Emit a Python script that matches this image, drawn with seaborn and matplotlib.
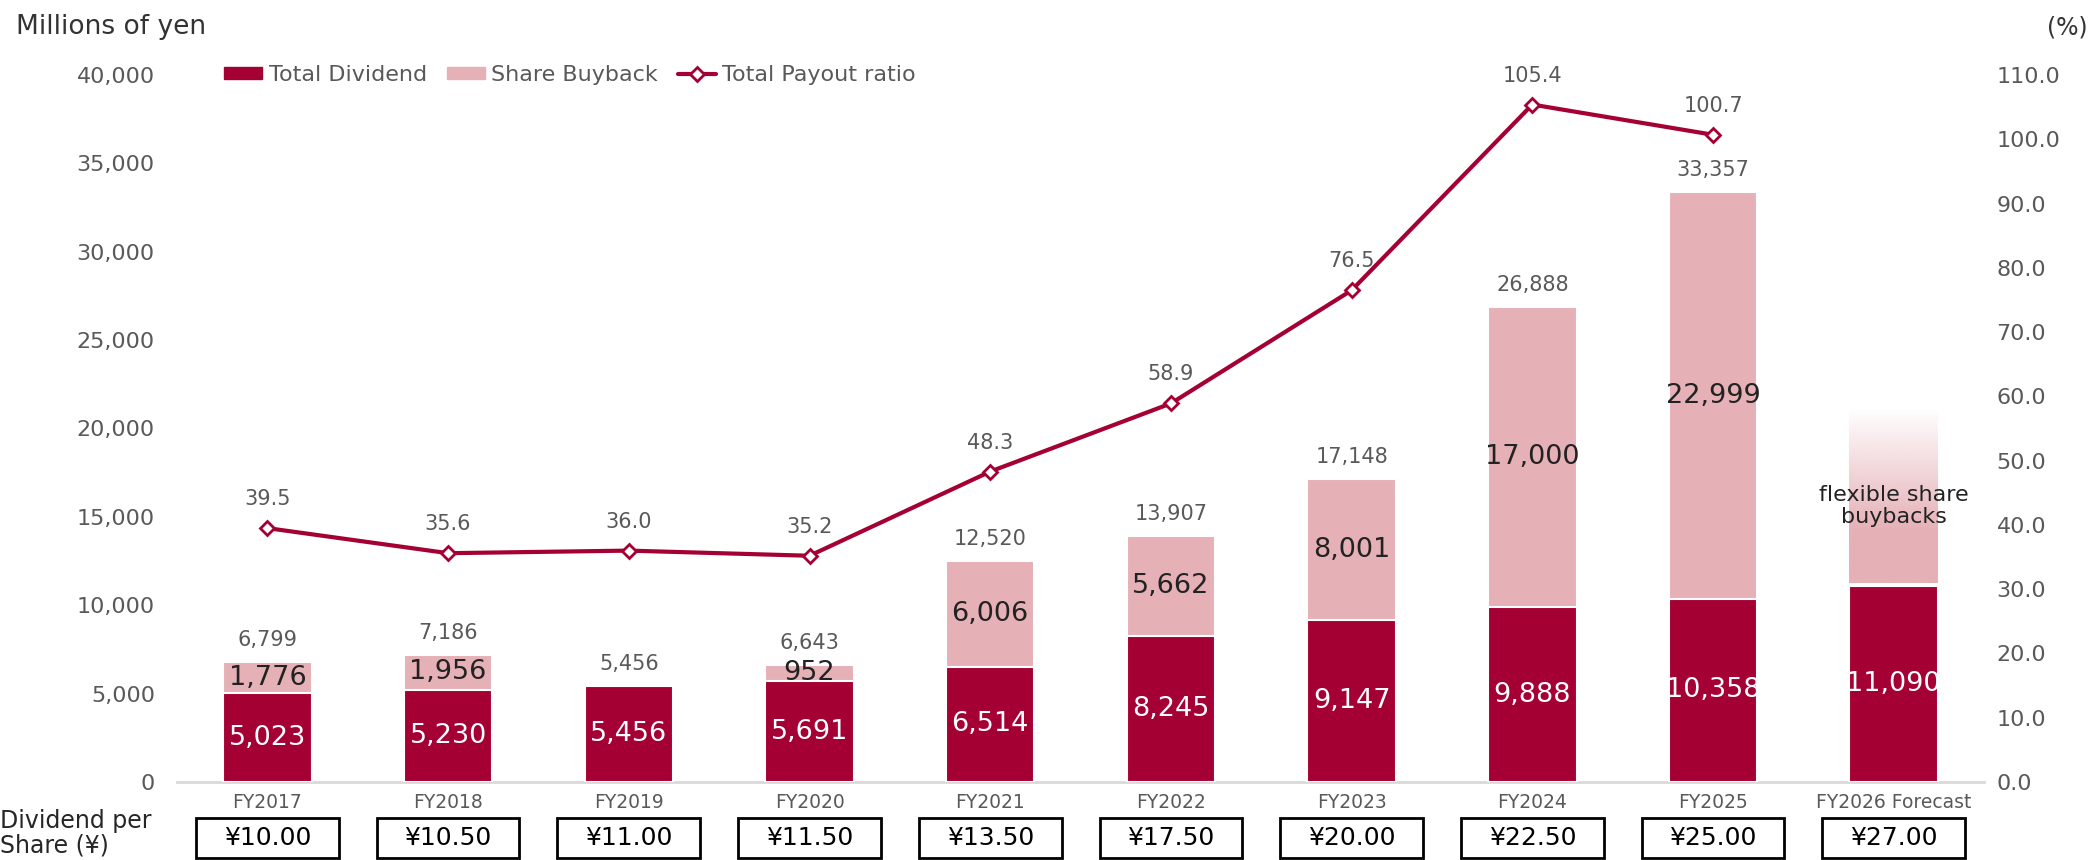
import numpy as np
import pandas as pd
import matplotlib
matplotlib.use("Agg")
import matplotlib.pyplot as plt
import seaborn as sns
from matplotlib.patches import Rectangle, Patch
from matplotlib.lines import Line2D
import matplotlib.transforms as mtransforms

sns.set_style("white")
plt.rcParams['font.family'] = ['DejaVu Sans']

# data
years = ['FY2017', 'FY2018', 'FY2019', 'FY2020', 'FY2021', 'FY2022',
         'FY2023', 'FY2024', 'FY2025', 'FY2026 Forecast']
dividend = [5023, 5230, 5456, 5691, 6514, 8245, 9147, 9888, 10358, 11090]
buyback = [1776, 1956, 0, 952, 6006, 5662, 8001, 17000, 22999, np.nan]
totals = [6799, 7186, 5456, 6643, 12520, 13907, 17148, 26888, 33357]
payout = [39.5, 35.6, 36.0, 35.2, 48.3, 58.9, 76.5, 105.4, 100.7]
dps = ['¥10.00', '¥10.50', '¥11.00', '¥11.50', '¥13.50', '¥17.50',
       '¥20.00', '¥22.50', '¥25.00', '¥27.00']
forecast_buyback_top = 21100  # top of the faded "flexible" bar

DARK = '#A50034'
PINK = '#E5B0B6'
GRAY = '#595959'

df = pd.DataFrame({'year': years, 'dividend': dividend, 'buyback': buyback})
df['stack'] = df['dividend'] + df['buyback'].fillna(0)

fig = plt.figure(figsize=(20.98, 8.6), dpi=100)
ax = fig.add_axes([0.0844, 0.0907, 0.9457 - 0.0844, 0.9128 - 0.0907])

bw = 0.49
# pink = dividend + buyback, dark red drawn over it
sns.barplot(data=df, x='year', y='stack', color=PINK, width=bw, saturation=1,
            edgecolor='white', linewidth=1.5, ax=ax, zorder=2)
sns.barplot(data=df, x='year', y='dividend', color=DARK, width=bw, saturation=1,
            edgecolor='white', linewidth=1.5, ax=ax, zorder=3)

# faded forecast buyback bar
n = len(years)
fi = n - 1
alpha = 1 - np.clip((np.linspace(0, 1, 256) - 0.3) / 0.7, 0, 1)
img = np.zeros((256, 1, 4))
img[..., 0], img[..., 1], img[..., 2] = matplotlib.colors.to_rgb(PINK)
img[:, 0, 3] = alpha
ax.imshow(img, extent=[fi - bw / 2, fi + bw / 2, dividend[fi] + 150, forecast_buyback_top],
          origin='lower', aspect='auto', zorder=1, interpolation='bilinear')
ax.text(fi, 15600, 'flexible share\nbuybacks', ha='center', va='center',
        fontsize=16, color='#222222', linespacing=1.1, zorder=5)

ax.set_xlim(-0.5, n - 0.5)
ax.set_ylim(0, 40000)
ax.set_yticks(np.arange(0, 40001, 5000))
ax.set_yticklabels([f'{v:,}' for v in range(0, 40001, 5000)])
ax.set_xlabel('')
ax.set_ylabel('')
ax.tick_params(axis='y', length=0, pad=16, labelsize=16, labelcolor=GRAY)
ax.tick_params(axis='x', length=0, pad=8, labelsize=13.5, labelcolor=GRAY)
for s in ['top', 'right', 'left']:
    ax.spines[s].set_visible(False)
ax.spines['bottom'].set_color('#D9D9D9')
ax.spines['bottom'].set_linewidth(2)

# labels inside bars
for i in range(n):
    ax.text(i, dividend[i] / 2, f'{dividend[i]:,}', ha='center', va='center',
            color='white', fontsize=19.5, zorder=6)
    b = buyback[i]
    if not np.isnan(b) and b > 0:
        ax.text(i, dividend[i] + b / 2, f'{int(b):,}', ha='center', va='center',
                color='#222222', fontsize=19.5, zorder=6)
for i, t in enumerate(totals):
    ax.annotate(f'{t:,}', (i, t), xytext=(0, 22), textcoords='offset pixels',
                ha='center', va='center', fontsize=15, color=GRAY)

# payout ratio line
ax2 = ax.twinx()
sns.lineplot(x=np.arange(len(payout)), y=payout, color=DARK, linewidth=3,
             marker='D', markersize=7, markerfacecolor='white',
             markeredgecolor=DARK, markeredgewidth=2, ax=ax2, zorder=4)
for i, p in enumerate(payout):
    ax2.annotate(f'{p:.1f}', (i, p), xytext=(0, 29), textcoords='offset pixels',
                 ha='center', va='center', fontsize=15, color=GRAY)
ax2.set_ylim(0, 110)
ax2.set_yticks(np.arange(0, 111, 10))
ax2.set_yticklabels([f'{v:.1f}' for v in range(0, 111, 10)])
ax2.tick_params(axis='y', length=0, pad=9, labelsize=16, labelcolor=GRAY)
for s in ax2.spines.values():
    s.set_visible(False)

# dividend per share boxes
trans = mtransforms.blended_transform_factory(ax.transData, ax.transAxes)
for i, d in enumerate(dps):
    ax.add_patch(Rectangle((i - 0.395, -0.1075), 0.79, 0.0565, transform=trans,
                           facecolor='white', edgecolor='black', lw=2, clip_on=False))
    ax.text(i, -0.079, d, transform=trans, ha='center', va='center',
            fontsize=18, color='black')
fig.text(0.0, 1 - 821 / 860, 'Dividend per', ha='left', va='center', fontsize=17)
fig.text(0.0, 1 - 846 / 860, 'Share (¥)', ha='left', va='center', fontsize=17)

fig.text(16 / 2098, 1 - 27 / 860, 'Millions of yen', ha='left', va='center',
         fontsize=19, color='#333333')
fig.text(2088 / 2098, 1 - 27 / 860, '(%)', ha='right', va='center',
         fontsize=17, color='#333333')

handles = [Patch(color=DARK), Patch(color=PINK),
           Line2D([], [], color=DARK, lw=3, marker='D', markersize=7,
                  markerfacecolor='white', markeredgecolor=DARK, markeredgewidth=2)]
leg = ax.legend(handles, ['Total Dividend', 'Share Buyback', 'Total Payout ratio'],
                loc='center left', bbox_to_anchor=(0.015, 1.0), ncol=3,
                frameon=False, fontsize=16, handlelength=1.7, handleheight=0.5,
                handletextpad=0.3, columnspacing=0.9)
for t in leg.get_texts():
    t.set_color(GRAY)

fig.savefig('out.png', dpi=100)
